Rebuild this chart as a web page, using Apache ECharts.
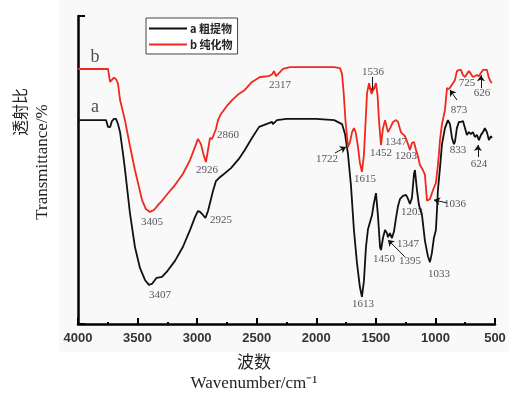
<!DOCTYPE html>
<html>
<head>
<meta charset="utf-8">
<script src="https://cdn.jsdelivr.net/npm/echarts@6/dist/echarts.min.js"></script>
<style>
  html, body { margin: 0; padding: 0; background: #fff; }
  #chart { width: 509px; height: 395px; }
</style>
</head>
<body>
<div id="chart"></div>
<script>
// x tick values (wavenumber, cm-1)
const xTicks = [4000, 3500, 3000, 2500, 2000, 1500, 1000, 500];

// curve b (purified), [wavenumber, transmittance]
const curveB = [
  [4000, 82.8], [3840, 82.8], [3748, 82.8], [3731, 78.6], [3715, 79.0], [3698, 80.0],
  [3681, 79.5], [3664, 78.0], [3647, 72.7], [3606, 66.2], [3564, 57.8], [3522, 50.0],
  [3463, 40.3], [3430, 37.3], [3396, 36.4], [3362, 37.0], [3320, 39.0], [3295, 40.0],
  [3250, 42.2], [3186, 45.1], [3120, 48.7], [3060, 53.2], [3018, 57.5], [2993, 60.1],
  [2968, 58.4], [2943, 54.5], [2926, 52.6], [2909, 56.5], [2892, 60.4], [2875, 60.1],
  [2858, 61.7], [2842, 63.3], [2825, 66.2], [2800, 68.2], [2750, 70.8], [2707, 72.7],
  [2650, 74.7], [2600, 76.0], [2540, 78.6], [2472, 80.2], [2400, 80.5], [2372, 81.0],
  [2355, 82.1], [2338, 80.5], [2322, 80.8], [2305, 81.8], [2280, 82.8], [2221, 83.4],
  [2000, 83.4], [1850, 83.4], [1801, 83.1], [1784, 81.2], [1770, 75.0], [1755, 66.0],
  [1734, 57.5], [1717, 59.1], [1700, 62.3], [1684, 63.6], [1668, 62.0], [1650, 57.5],
  [1634, 52.3], [1617, 49.4], [1600, 55.0], [1583, 68.0], [1574, 75.0], [1557, 78.2],
  [1549, 78.2], [1536, 74.7], [1520, 74.4], [1507, 77.5], [1499, 78.2], [1485, 74.0],
  [1474, 66.2], [1457, 58.1], [1440, 63.6], [1423, 66.2], [1410, 65.6], [1398, 62.3],
  [1380, 63.6], [1356, 65.6], [1331, 66.2], [1314, 65.6], [1290, 62.3], [1256, 61.0],
  [1230, 58.4], [1214, 56.5], [1197, 58.8], [1180, 59.1], [1163, 56.5], [1147, 54.5],
  [1130, 51.6], [1105, 50.0], [1088, 48.4], [1079, 44.0], [1071, 40.0], [1060, 39.9],
  [1046, 40.6], [1020, 43.5], [996, 45.8], [979, 51.6], [970, 55.5], [962, 59.7],
  [945, 64.9], [920, 69.5], [903, 76.6], [886, 76.3], [870, 76.9], [853, 78.2],
  [836, 79.2], [820, 82.1], [803, 82.5], [786, 82.5], [769, 80.8], [752, 80.2],
  [736, 81.2], [719, 82.1], [702, 81.2], [685, 80.2], [669, 79.9], [652, 80.8],
  [635, 80.5], [618, 81.5], [601, 82.5], [585, 83.1], [568, 82.5], [551, 79.9],
  [535, 78.6], [526, 78.3]
];

// curve a (crude extract)
const curveA = [
  [4000, 66.2], [3840, 66.2], [3765, 66.2], [3748, 64.0], [3731, 63.9], [3715, 65.9],
  [3698, 66.6], [3681, 66.6], [3664, 64.9], [3647, 62.3], [3622, 55.2], [3606, 50.3],
  [3564, 36.0], [3522, 25.0], [3480, 18.2], [3438, 14.3], [3405, 12.7], [3380, 13.0],
  [3340, 15.0], [3295, 15.3], [3250, 17.2], [3186, 20.5], [3120, 25.0], [3060, 30.5],
  [3018, 34.7], [2993, 36.7], [2976, 36.4], [2951, 35.4], [2930, 34.4], [2909, 36.7],
  [2892, 39.3], [2867, 43.2], [2842, 46.4], [2817, 47.4], [2775, 48.7], [2716, 50.6],
  [2650, 53.6], [2600, 56.5], [2540, 60.4], [2480, 64.0], [2420, 64.9], [2370, 65.6],
  [2364, 64.9], [2330, 66.2], [2250, 66.6], [2000, 66.6], [1850, 66.2], [1784, 64.9],
  [1759, 61.7], [1734, 55.2], [1709, 45.0], [1684, 30.5], [1659, 20.0], [1634, 12.0],
  [1617, 8.8], [1600, 14.0], [1583, 25.0], [1566, 30.8], [1549, 33.1], [1532, 35.4],
  [1516, 39.3], [1499, 42.5], [1482, 35.0], [1465, 25.0], [1457, 24.0], [1440, 28.0],
  [1423, 30.5], [1407, 29.5], [1398, 28.2], [1382, 29.5], [1365, 27.9], [1348, 30.0],
  [1331, 34.4], [1314, 38.3], [1297, 40.6], [1272, 41.6], [1247, 41.9], [1230, 40.6],
  [1214, 39.0], [1197, 41.0], [1180, 48.7], [1172, 50.0], [1155, 43.5], [1138, 38.6],
  [1113, 35.4], [1088, 27.0], [1063, 22.0], [1046, 20.1], [1030, 23.0], [1013, 27.9],
  [996, 30.5], [987, 37.0], [979, 43.5], [962, 50.6], [945, 58.4], [920, 63.6],
  [895, 66.2], [878, 64.9], [861, 60.4], [845, 58.4], [836, 59.1], [820, 63.6],
  [803, 65.6], [786, 65.6], [769, 65.9], [752, 63.6], [736, 61.4], [719, 62.3],
  [702, 61.7], [685, 62.3], [669, 60.7], [652, 61.4], [635, 59.7], [618, 61.4],
  [601, 62.3], [585, 63.6], [568, 62.3], [551, 59.7], [535, 61.0], [526, 60.4]
];

// peak labels [wavenumber, transmittance, text]
const peakLabels = [
  [3379, 33.1, '3405'], [2917, 50.0, '2926'], [2741, 61.4, '2860'], [2305, 77.6, '2317'],
  [1910, 53.6, '1722'], [1591, 47.1, '1615'], [1524, 81.8, '1536'], [1457, 55.5, '1452'],
  [1331, 59.1, '1347'], [1247, 54.5, '1203'], [836, 39.0, '1036'], [802, 69.5, '873'],
  [735, 78.2, '725'], [609, 75.0, '626'],
  [3312, 9.4, '3407'], [2800, 33.8, '2925'], [1608, 6.5, '1613'], [1432, 21.1, '1450'],
  [1214, 20.5, '1395'], [1230, 26.0, '1347'], [1197, 36.4, '1203'], [970, 16.2, '1033'],
  [811, 56.5, '833'], [634, 51.9, '624']
];

// curve letters
const curveNames = [[3857, 86.7, 'b'], [3857, 70.5, 'a']];

// pointer arrows [[from], [to]]
const arrows = [
  [[1843, 55.5], [1751, 57.5]],
  [[1532, 80.2], [1532, 75.0]],
  [[903, 39.3], [1012, 40.3]],
  [[819, 72.7], [878, 76.0]],
  [[618, 76.6], [618, 80.8]],
  [[643, 54.2], [643, 58.1]],
  [[1256, 21.8], [1398, 27.3]]
];

const chart = echarts.init(document.getElementById('chart'));

chart.setOption({
  animation: false,
  backgroundColor: '#fff',
  graphic: [
    { type: 'rect', z: -10, shape: { x: 59, y: 0, width: 450, height: 352 }, style: { fill: '#f9f9f9' } },
    { type: 'text', x: 20, y: 112, rotation: Math.PI / 2,
      style: { text: '透射比', font: '16px "Noto Sans CJK SC"', fill: '#222', align: 'center', verticalAlign: 'middle' } },
    { type: 'text', x: 43, y: 162, rotation: Math.PI / 2,
      style: { text: 'Transmittance/%', font: '17px "Liberation Serif"', fill: '#222', align: 'center', verticalAlign: 'middle' } },
    { type: 'text', x: 254, y: 362,
      style: { text: '波数', font: '17px "Noto Sans CJK SC"', fill: '#222', align: 'center', verticalAlign: 'middle' } },
    { type: 'text', x: 254, y: 384,
      style: { text: 'Wavenumber/cm⁻¹', font: '17px "Liberation Serif"', fill: '#222', align: 'center', verticalAlign: 'middle' } }
  ],
  grid: { left: 78, right: 14, top: 16, bottom: 71 },
  legend: {
    data: ['a 粗提物', 'b 纯化物'],
    orient: 'vertical',
    left: 146, top: 18,
    backgroundColor: '#fff',
    borderColor: '#444', borderWidth: 1,
    padding: [5, 5, 4, 3],
    itemGap: 5,
    itemWidth: 38, itemHeight: 2,
    icon: 'rect',
    textStyle: { fontFamily: 'Noto Sans CJK SC', fontSize: 11, color: '#222', fontWeight: 'bold', padding: [0, 0, 0, -2] }
  },
  xAxis: {
    type: 'value',
    inverse: true,
    min: 500, max: 4000, interval: 500,
    axisLine: { lineStyle: { color: '#000', width: 2.5 } },
    axisTick: { inside: true, length: 6, lineStyle: { color: '#000', width: 2 } },
    minorTick: { show: true, splitNumber: 2, length: 2, lineStyle: { color: '#000', width: 2 } },
    splitLine: { show: false },
    axisLabel: {
      margin: 8, fontSize: 13, fontWeight: 'bold', color: '#333', fontFamily: 'Liberation Sans',
      formatter: v => xTicks.includes(v) ? String(v) : ''
    }
  },
  yAxis: {
    type: 'value',
    min: 0, max: 100, interval: 100,
    axisLine: { show: true, lineStyle: { color: '#000', width: 2.5 } },
    axisTick: { show: true, inside: true, length: 7, lineStyle: { color: '#000', width: 2 } },
    axisLabel: { show: false },
    splitLine: { show: false }
  },
  series: [
    {
      name: 'a 粗提物', type: 'line', data: curveA, symbol: 'none',
      lineStyle: { color: '#111', width: 1.8 }, itemStyle: { color: '#111' }
    },
    {
      name: 'b 纯化物', type: 'line', data: curveB, symbol: 'none',
      lineStyle: { color: '#f0281e', width: 1.8 }, itemStyle: { color: '#f0281e' }
    },
    {
      name: 'peaks', type: 'scatter', data: peakLabels, symbolSize: 0,
      label: {
        show: true, position: 'inside', formatter: p => p.data[2],
        fontFamily: 'Liberation Serif', fontSize: 11, color: '#2a2a36'
      }
    },
    {
      name: 'letters', type: 'scatter', data: curveNames, symbolSize: 0,
      label: {
        show: true, position: 'inside', formatter: p => p.data[2],
        fontFamily: 'Liberation Serif', fontSize: 18, color: '#222'
      }
    },
    {
      name: 'arrows', type: 'lines', coordinateSystem: 'cartesian2d',
      data: arrows.map(a => ({ coords: a })),
      symbol: ['none', 'arrow'], symbolSize: 6,
      lineStyle: { color: '#111', width: 1, opacity: 1 }
    }
  ]
});
</script>
</body>
</html>
